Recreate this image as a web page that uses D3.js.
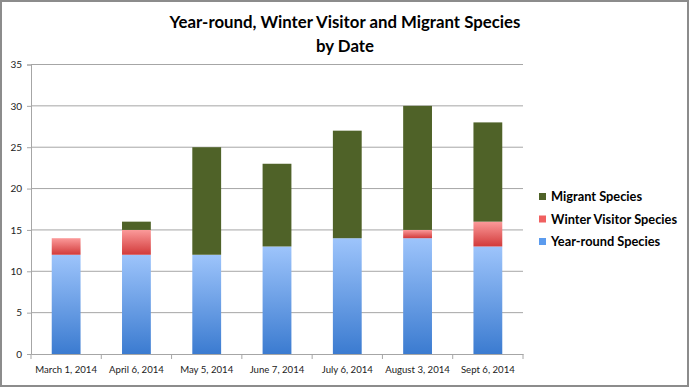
<!DOCTYPE html>
<html><head><meta charset="utf-8">
<script src="https://cdn.jsdelivr.net/npm/d3@7"></script>
<style>body{margin:0;background:#fff}svg{display:block}</style>
</head><body>
<svg id="c" width="690" height="388"></svg>
<script>
const categories = ["March 1, 2014","April 6, 2014","May 5, 2014","June 7, 2014","July 6, 2014","August 3, 2014","Sept 6, 2014"];
const yearRound = [12,12,12,13,14,14,13];
const winterVisitor = [2,3,0,0,0,1,3];
const migrant = [0,1,13,10,13,15,12];
const yTicks = [0,5,10,15,20,25,30,35];
const seriesNames = ["Year-round Species","Winter Visitor Species","Migrant Species"];

const svg = d3.select("#c");
const font = "Lato, 'Open Sans', sans-serif";
const defs = svg.append("defs");
function grad(id, top, bot){
  const g = defs.append("linearGradient").attr("id",id).attr("x1",0).attr("y1",0).attr("x2",0).attr("y2",1);
  g.append("stop").attr("offset","0%").attr("stop-color",top);
  g.append("stop").attr("offset","100%").attr("stop-color",bot);
}
grad("gBlue","#9dc4fb","#3b7bd0");
grad("gRed","#fb9a9a","#d23a3a");

svg.append("rect").attr("x",1).attr("y",1).attr("width",687).attr("height",385)
  .attr("fill","#fff").attr("stroke","#8c8c8c").attr("stroke-width",2);

const x = d3.scaleBand().domain(categories).range([31,523]);
const y = d3.scaleLinear().domain([0,35]).range([354,64.5]);

// gridlines
svg.append("g").selectAll("line").data(yTicks.filter(d=>d>0)).join("line")
  .attr("x1",31).attr("x2",523).attr("y1",d=>y(d)).attr("y2",d=>y(d))
  .attr("stroke","#a6a6a6").attr("stroke-width",1);

// stacked data
const rows = categories.map((c,i)=>({cat:c, yr:yearRound[i], wv:winterVisitor[i], mg:migrant[i]}));
const stack = d3.stack().keys(["yr","wv","mg"])(rows);
const fills = {yr:"url(#gBlue)", wv:"url(#gRed)", mg:"#4f6228"};
const bw = x.bandwidth()*0.41;
stack.forEach(s=>{
  svg.append("g").selectAll("rect").data(s.filter(d=>d[1]-d[0]>0)).join("rect")
    .attr("x",d=>x(d.data.cat)+(x.bandwidth()-bw)/2)
    .attr("width",bw)
    .attr("y",d=>y(d[1]))
    .attr("height",d=>y(d[0])-y(d[1]))
    .attr("fill",fills[s.key]);
});

// y axis
const yAxis = d3.axisLeft(y).tickValues(yTicks).tickSize(4).tickPadding(5);
const ya = svg.append("g").attr("transform","translate(31,0)").call(yAxis);
ya.select(".domain").attr("stroke","#a6a6a6");
ya.selectAll(".tick line").attr("stroke","#a6a6a6");
ya.selectAll("text").attr("font-family",font).attr("font-size",10).attr("fill","#222");

// x axis
const xAxis = d3.axisBottom(x).tickSize(0).tickPadding(12);
const xa = svg.append("g").attr("transform","translate(0,354)").call(xAxis);
xa.select(".domain").attr("stroke","#a6a6a6");
xa.selectAll("text").attr("font-family",font).attr("font-size",9.6).attr("fill","#222");
svg.append("g").selectAll("line").data(d3.range(categories.length+1)).join("line")
  .attr("x1",i=>31+i*x.step()).attr("x2",i=>31+i*x.step())
  .attr("y1",354).attr("y2",359).attr("stroke","#a6a6a6");

// title
const t = svg.append("text").attr("x",345).attr("text-anchor","middle")
  .attr("font-family",font).attr("font-weight","bold").attr("font-size",16.8).attr("fill","#000");
t.append("tspan").attr("x",345).attr("y",28).text("Year-round, Winter Visitor and Migrant Species");
t.append("tspan").attr("x",345).attr("y",52).text("by Date");

// legend
const legendItems = [
  {name:seriesNames[2], color:"#4f6228"},
  {name:seriesNames[1], color:"#f06060"},
  {name:seriesNames[0], color:"#5b9bee"}
];
const lg = svg.append("g").selectAll("g").data(legendItems).join("g")
  .attr("transform",(d,i)=>`translate(539,${193+i*22.5})`);
lg.append("rect").attr("width",7).attr("height",7).attr("fill",d=>d.color);
lg.append("text").attr("x",12).attr("y",8).attr("font-family",font).attr("font-weight","bold")
  .attr("font-size",12.8).attr("fill","#000").text(d=>d.name);
</script>
</body></html>
